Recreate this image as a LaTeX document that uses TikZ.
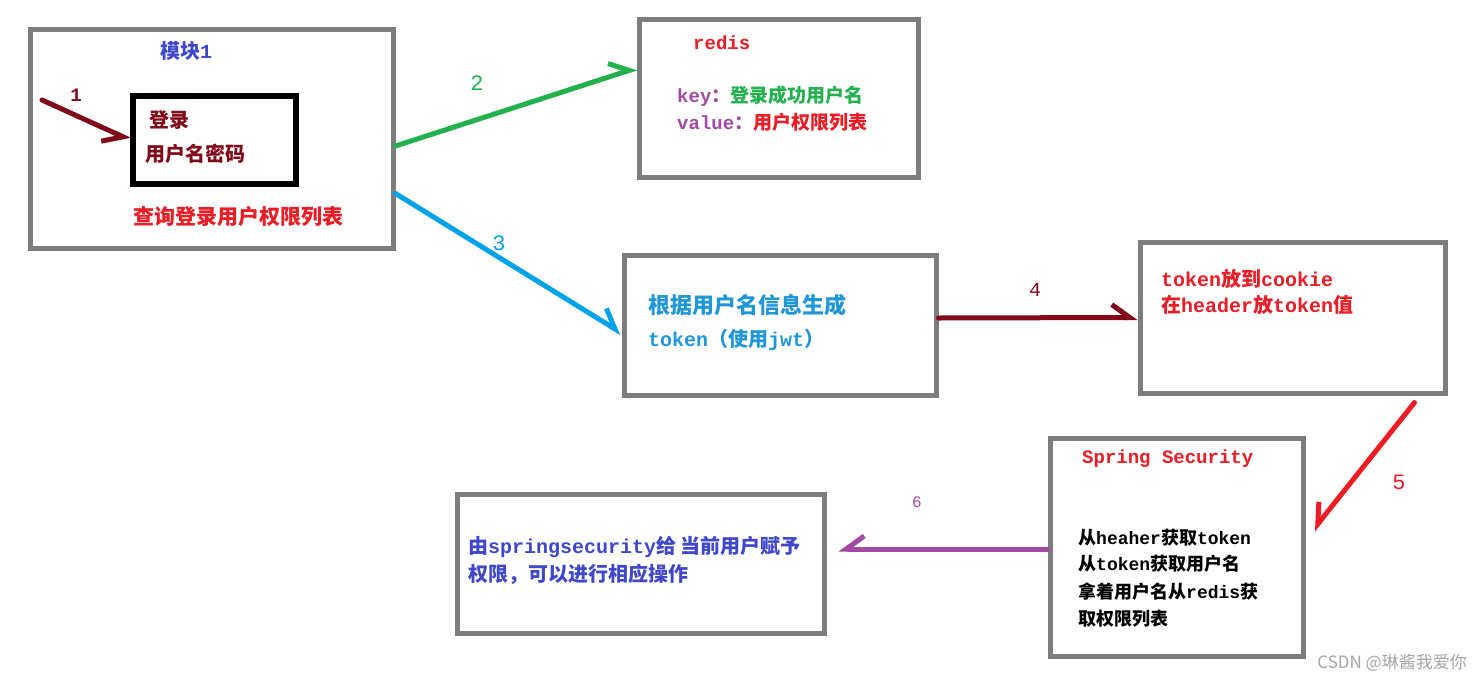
\documentclass[tikz,border=0pt]{standalone}
\usepackage{fontspec}
\setmainfont{Noto Sans CJK SC}
\newfontfamily\monofont{Liberation Mono}
\usepackage{xcolor}
\usetikzlibrary{arrows.meta, positioning, calc}

\definecolor{boxgray}{RGB}{125,125,125}
\definecolor{darkred}{RGB}{128,10,25}
\definecolor{pgreen}{RGB}{34,177,76}
\definecolor{pblue}{RGB}{0,162,232}
\definecolor{tblue}{RGB}{30,150,215}
\definecolor{pred}{RGB}{237,28,36}
\definecolor{ppurple}{RGB}{163,73,164}
\definecolor{pindigo}{RGB}{63,72,204}

\newcommand{\en}[1]{{\monofont\bfseries #1}}
\newcommand{\fsz}[1]{\fontsize{#1}{#1}\selectfont}
\newcommand{\bsz}[1]{\fontsize{#1}{#1}\selectfont\bfseries}

\tikzset{
  box/.style={draw=boxgray, line width=5pt, fill=white, inner sep=0pt},
  txt/.style={anchor=west, inner sep=0pt},
  num/.style={inner sep=0pt, font=\monofont\fsz{20}},
  arr/.style={line width=5pt, line cap=round, line join=round},
  lbarb/.style={-{Straight Barb[left, length=18pt, width=26pt]}},
  rbarb/.style={-{Straight Barb[right, length=18pt, width=26pt]}}
}

\begin{document}
\begin{tikzpicture}[x=1pt, y=-1pt]
\useasboundingbox[fill=white] (0,0) rectangle (1483,683);

% boxes
\node[box, minimum width=363pt, minimum height=219pt] (mod) at (211.5,138.5) {};
\node[box, draw=black, line width=6pt, minimum width=163pt, minimum height=88pt] (login) at (214.5,140) {};
\node[box, minimum width=279pt, minimum height=158pt] (redis) at (778.5,98) {};
\node[box, minimum width=312pt, minimum height=140pt] (token) at (780,325) {};
\node[box, minimum width=305pt, minimum height=151pt] (cookie) at (1292.5,317.5) {};
\node[box, minimum width=253pt, minimum height=218pt] (spring) at (1176.5,547) {};
\node[box, minimum width=367pt, minimum height=139pt] (perm) at (640.5,563.5) {};

% texts
\node[txt, text=pindigo, font=\bsz{20}] (modname) at (160,51) {模块\en{1}};
\node[txt, text=darkred, font=\bsz{20}] (login1) at (149,120) {登录};
\node[txt, text=darkred, font=\bsz{20}] (login2) at (145,154) {用户名密码};
\node[txt, text=pred, font=\bsz{21}] (query) at (133,217) {查询登录用户权限列表};

\node[txt, text=pred, font=\bsz{19}] (redisname) at (693,43) {\en{redis}};
\node[txt, font=\bsz{19}] (key) at (677,96) {\textcolor{ppurple}{\en{key}：}\textcolor{pgreen}{登录成功用户名}};
\node[txt, font=\bsz{19}] (value) at (677,122) {\textcolor{ppurple}{\en{value}：}\textcolor{pred}{用户权限列表}};

\node[txt, text=tblue, font=\bsz{22}] (gen1) at (648,305) {根据用户名信息生成};
\node[txt, text=tblue, font=\bsz{20}] (gen2) at (648,340) {\en{token}（使用\en{jwt}）};

\node[txt, text=pred, font=\bsz{20}] (ck1) at (1161,279) {\en{token}放到\en{cookie}};
\node[txt, text=pred, font=\bsz{20}] (ck2) at (1161,305) {在\en{header}放\en{token}值};

\node[txt, text=pred, font=\bsz{19}] (ssname) at (1082,459) {\en{Spring Security}};
\node[txt, font=\bsz{18}] (ss1) at (1078,538) {从\en{heaher}获取\en{token}};
\node[txt, font=\bsz{18}] (ss2) at (1078,564) {从\en{token}获取用户名};
\node[txt, font=\bsz{18}] (ss3) at (1078,592) {拿着用户名从\en{redis}获};
\node[txt, font=\bsz{18}] (ss4) at (1078,619) {取权限列表};

\node[txt, text=pindigo, font=\bsz{20}] (perm1) at (468,547) {由\en{springsecurity}给 当前用户赋予};
\node[txt, text=pindigo, font=\bsz{20}] (perm2) at (468,574) {权限，可以进行相应操作};

% arrows
\coordinate (start) at (42,100);
\draw[arr, rbarb, darkred] (start) -- (login.west);
\draw[arr, lbarb, pgreen] ([yshift=-7.5pt]mod.east) -- ([yshift=30pt]redis.west);
\draw[arr, lbarb, pblue] ([yshift=-55pt]mod.east) -- ([yshift=-8pt]token.west);
\draw[arr, lbarb, darkred] ([yshift=7pt]token.east) -- (cookie.west);
\draw[arr, rbarb, pred] ([xshift=122pt,yshift=-7pt]cookie.south) -- ([xshift=7.5pt,yshift=17pt]spring.east);
\draw[arr, rbarb, ppurple] ([yshift=-2pt]spring.west) -- ([xshift=12pt,yshift=14.5pt]perm.east);

% step numbers
\node[num, text=darkred, font=\monofont\bsz{19}] (n1) at (76,95) {1};
\node[num, text=pgreen, font=\monofont\fsz{22}] (n2) at (477,83) {2};
\node[num, text=pblue, font=\monofont\fsz{22}] (n3) at (499,243) {3};
\node[num, text=darkred] (n4) at (1035,290) {4};
\node[num, text=pred, font=\monofont\fsz{22}] (n5) at (1399,482) {5};
\node[num, text=ppurple, font=\monofont\fsz{16}] (n6) at (917,502) {6};

% watermark
\node[anchor=east, inner sep=0pt, text=gray!70, font=\fsz{17}] (mark) at (1467,663) {CSDN @琳酱我爱你};
\end{tikzpicture}
\end{document}
